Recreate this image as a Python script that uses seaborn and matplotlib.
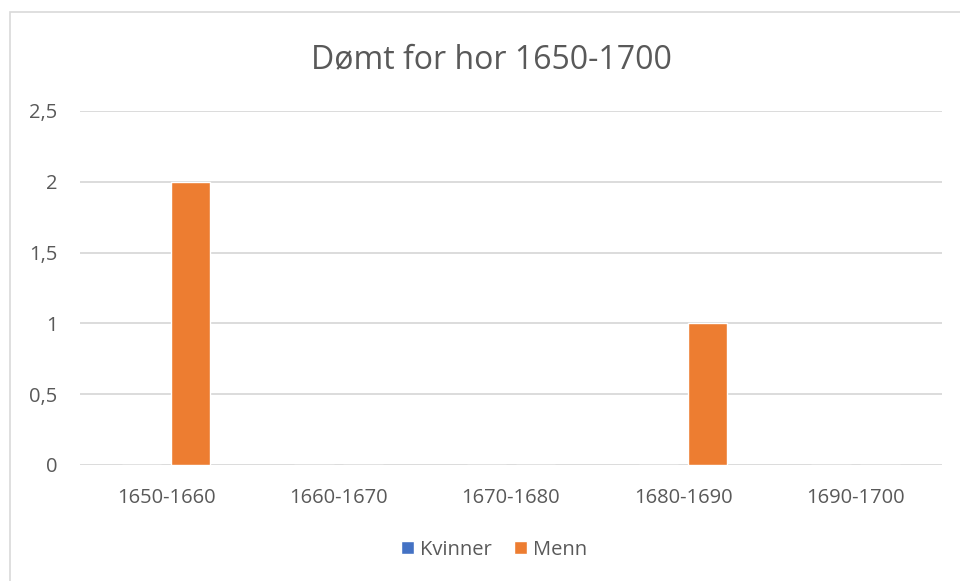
import pandas as pd
import seaborn as sns
import matplotlib.pyplot as plt
from matplotlib.patches import Rectangle

# Data
periods = ['1650-1660', '1660-1670', '1670-1680', '1680-1690', '1690-1700']
kvinner = [0, 0, 0, 0, 0]
menn = [2, 0, 0, 1, 0]

df = pd.DataFrame({'Periode': periods * 2,
                   'Antall': kvinner + menn,
                   'Kjønn': ['Kvinner'] * len(periods) + ['Menn'] * len(periods)})

sns.set_theme(style='white')
plt.rcParams['font.family'] = ['Open Sans', 'DejaVu Sans']
grey = '#595959'

fig = plt.figure(figsize=(9.6, 5.81), dpi=100)
ax = fig.add_axes([0.0833, 0.1997, 0.8977, 0.6093])

sns.barplot(data=df, x='Periode', y='Antall', hue='Kjønn',
            palette={'Kvinner': '#4472C4', 'Menn': '#ED7D31'},
            saturation=1, width=0.57, gap=0.2, ax=ax, legend=True)

ax.set_ylim(0, 2.5)
ax.set_xlim(-0.5, len(periods) - 0.5)
ax.set_yticks([0, 0.5, 1, 1.5, 2, 2.5])
ax.set_yticklabels(['0', '0,5', '1', '1,5', '2', '2,5'])
ax.yaxis.grid(True, color='#d9d9d9', linewidth=1.3)
ax.set_axisbelow(True)
for s in ax.spines.values():
    s.set_visible(False)
ax.tick_params(axis='both', length=0, labelsize=14.5, colors=grey)
ax.tick_params(axis='y', pad=16)
ax.tick_params(axis='x', pad=16.5)
ax.set_xlabel('')
ax.set_ylabel('')

fig.text(0.512, 0.898, 'Dømt for hor 1650-1700', ha='center', va='center',
         fontsize=23, color=grey)

ax.get_legend().remove()
h, l = ax.get_legend_handles_labels()
fig.legend(h, l, loc='center', bbox_to_anchor=(0.515, 0.054), ncol=2,
           frameon=False, fontsize=14.5, labelcolor=grey,
           handlelength=0.65, handleheight=0.65, handletextpad=0.3,
           columnspacing=1.1)

# chart border
fig.patches.append(Rectangle((10 / 960, -0.1), 1.2, 1 - 12 / 581 + 0.1,
                             transform=fig.transFigure, fill=False,
                             edgecolor='#d9d9d9', linewidth=1.2))

fig.savefig('out.png', dpi=100)
